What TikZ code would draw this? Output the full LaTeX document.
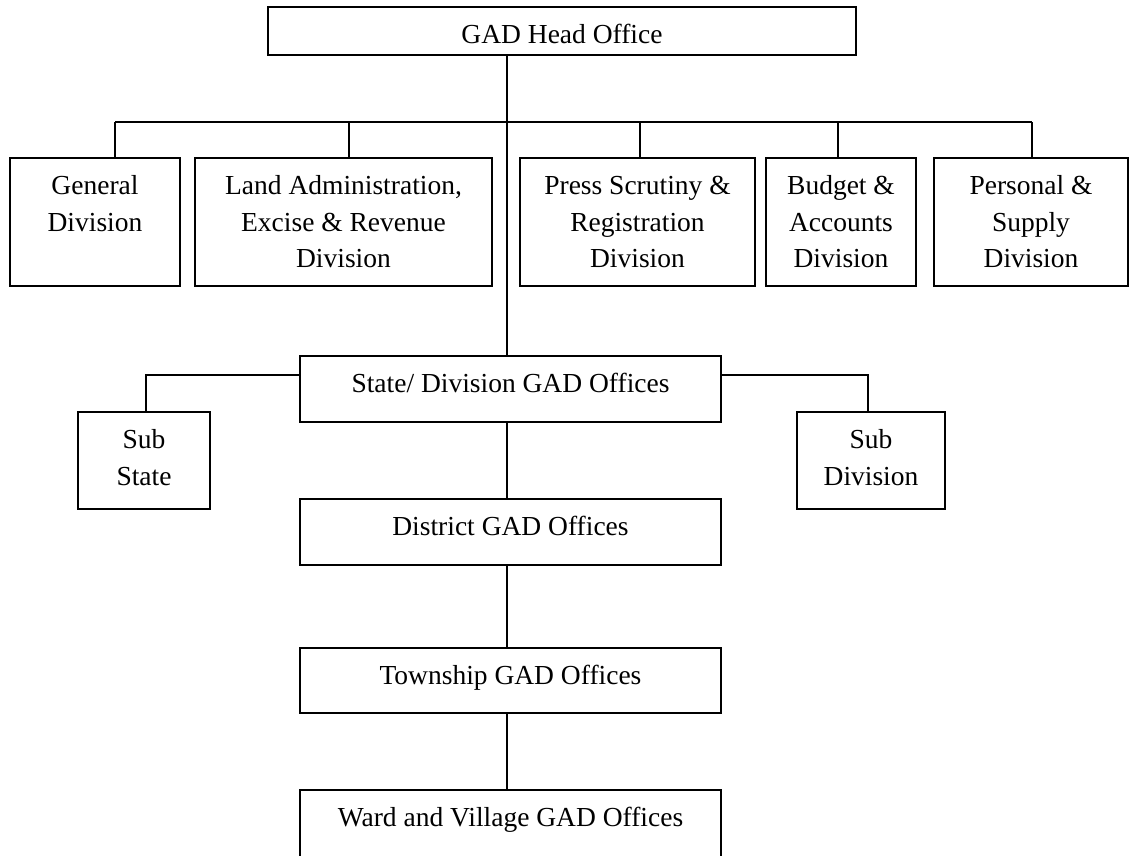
\documentclass[tikz,border=0pt]{standalone}
\usepackage{fontspec}
\setmainfont{Liberation Serif}
\begin{document}
\begin{tikzpicture}[x=1pt,y=-1pt,
  box/.style={draw, line width=1.5pt, inner sep=0pt, outer sep=0pt, rectangle},
  lbl/.style={anchor=north, inner sep=0pt, align=center, font=\fontsize{27.5}{36.7}\selectfont},
  wire/.style={line width=1.1pt}]
\useasboundingbox (0,0) rectangle (1129,855);
% boxes
\node[box, minimum width=588pt, minimum height=48pt] (head) at (562,31) {};
\node[box, minimum width=170pt, minimum height=128pt] (gen) at (95,222) {};
\node[box, minimum width=297pt, minimum height=128pt] (land) at (343.5,222) {};
\node[box, minimum width=235pt, minimum height=128pt] (press) at (637.5,222) {};
\node[box, minimum width=150pt, minimum height=128pt] (budget) at (841,222) {};
\node[box, minimum width=194pt, minimum height=128pt] (pers) at (1031,222) {};
\node[box, minimum width=421pt, minimum height=66pt] (state) at (510.5,389) {};
\node[box, minimum width=132pt, minimum height=97pt] (subst) at (144,460.5) {};
\node[box, minimum width=148pt, minimum height=97pt] (subdiv) at (871,460.5) {};
\node[box, minimum width=421pt, minimum height=66pt] (dist) at (510.5,532) {};
\node[box, minimum width=421pt, minimum height=65pt] (town) at (510.5,680.5) {};
\node[box, minimum width=421pt, minimum height=67pt] (ward) at (510.5,823.5) {};
% texts
\node[lbl] (headt) at ([yshift=-10.6pt]head.north) {\strut GAD Head Office};
\node[lbl] (gent) at ([yshift=-10.6pt]gen.north) {\strut General\\Division};
\node[lbl] (landt) at ([yshift=-10.6pt]land.north) {\strut Land Administration,\\Excise \& Revenue\\Division};
\node[lbl] (presst) at ([yshift=-10.6pt]press.north) {\strut Press Scrutiny \&\\Registration\\Division};
\node[lbl] (budgett) at ([yshift=-10.6pt]budget.north) {\strut Budget \&\\Accounts\\Division};
\node[lbl] (perst) at ([yshift=-10.6pt]pers.north) {\strut Personal \&\\Supply\\Division};
\node[lbl] (statet) at ([yshift=-10.6pt]state.north) {\strut State/ Division GAD Offices};
\node[lbl] (substt) at ([yshift=-10.6pt]subst.north) {\strut Sub\\State};
\node[lbl] (subdivt) at ([yshift=-10.6pt]subdiv.north) {\strut Sub\\Division};
\node[lbl] (distt) at ([yshift=-10.6pt]dist.north) {\strut District GAD Offices};
\node[lbl] (townt) at ([yshift=-10.6pt]town.north) {\strut Township GAD Offices};
\node[lbl] (wardt) at ([yshift=-10.6pt]ward.north) {\strut Ward and Village GAD Offices};
% connector coordinates
\coordinate (tk) at (507,0);
\coordinate (h1) at (115,122);
\coordinate (h2) at (349,122);
\coordinate (h3) at (640,122);
\coordinate (h4) at (838,122);
\coordinate (h5) at (1032,122);
\coordinate (bl) at (146,375);
\coordinate (br) at (868,375);
% connectors
\draw[wire] (head.south -| tk) -- (state.north -| tk);
\draw[wire] (h1) -- (h5);
\draw[wire] (h1) -- (h1 |- gen.north);
\draw[wire] (h2) -- (h2 |- land.north);
\draw[wire] (h3) -- (h3 |- press.north);
\draw[wire] (h4) -- (h4 |- budget.north);
\draw[wire] (h5) -- (h5 |- pers.north);
\draw[wire] (state.west |- bl) -- (bl) -- (bl |- subst.north);
\draw[wire] (state.east |- br) -- (br) -- (br |- subdiv.north);
\draw[wire] (state.south -| tk) -- (dist.north -| tk);
\draw[wire] (dist.south -| tk) -- (town.north -| tk);
\draw[wire] (town.south -| tk) -- (ward.north -| tk);
\end{tikzpicture}
\end{document}
